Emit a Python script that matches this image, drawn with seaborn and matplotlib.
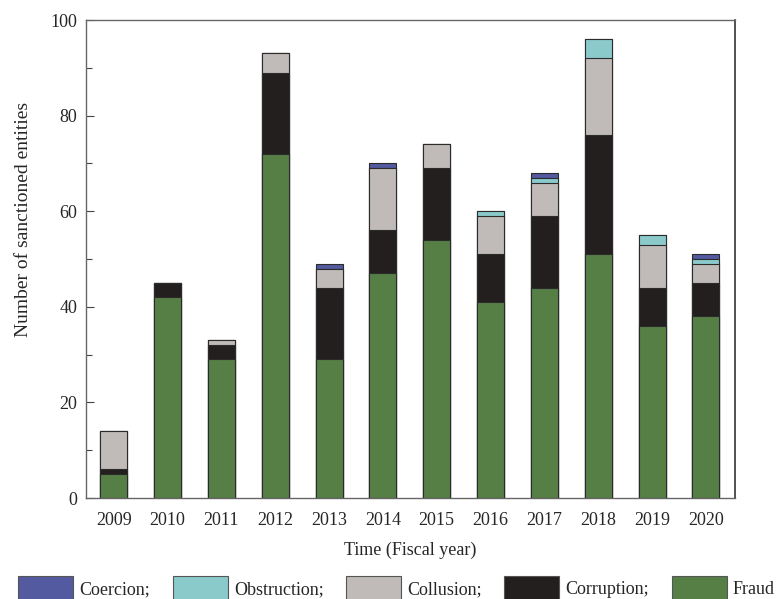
import numpy as np
import pandas as pd
import matplotlib
matplotlib.use("Agg")
import matplotlib.pyplot as plt
import seaborn as sns
from matplotlib.patches import Patch
from matplotlib.ticker import MultipleLocator

years = ["2009", "2010", "2011", "2012", "2013", "2014",
         "2015", "2016", "2017", "2018", "2019", "2020"]
fraud = [5, 42, 29, 72, 29, 47, 54, 41, 44, 51, 36, 38]
corruption = [1, 3, 3, 17, 15, 9, 15, 10, 15, 25, 8, 7]
collusion = [8, 0, 1, 4, 4, 13, 5, 8, 7, 16, 9, 4]
obstruction = [0, 0, 0, 0, 0, 0, 0, 1, 1, 4, 2, 1]
coercion = [0, 0, 0, 0, 1, 1, 0, 0, 1, 0, 0, 1]

categories = ["Fraud", "Corruption", "Collusion", "Obstruction", "Coercion"]
colors = {
    "Fraud": "#567f46",
    "Corruption": "#231f1e",
    "Collusion": "#c0bab8",
    "Obstruction": "#8bcaca",
    "Coercion": "#535a9f",
}

df = pd.DataFrame({
    "year": years,
    "Fraud": fraud,
    "Corruption": corruption,
    "Collusion": collusion,
    "Obstruction": obstruction,
    "Coercion": coercion,
})

# cumulative heights, bottom layer first
cum = df[categories].cumsum(axis=1)

sns.set_theme(style="white")
plt.rcParams["font.family"] = ["Liberation Serif", "DejaVu Serif"]
plt.rcParams["font.size"] = 13

fig = plt.figure(figsize=(7.79, 5.99), dpi=100)
ax = fig.add_axes([0.110, 0.1686, 0.8335, 0.798])

# draw the tallest cumulative layer first so lower layers sit on top of it
for cat in reversed(categories):
    sns.barplot(x=df["year"], y=cum[cat], ax=ax, color=colors[cat],
                width=0.5, edgecolor="#2b2b2b", linewidth=0.8,
                saturation=1, errorbar=None)

ax.set_xlim(-0.52, 11.54)
ax.set_ylim(0, 100)
ax.yaxis.set_major_locator(MultipleLocator(20))
ax.yaxis.set_minor_locator(MultipleLocator(10))
ax.tick_params(axis="y", which="major", direction="in", length=6, width=0.8,
               color="#444444", labelsize=13, pad=6, left=True)
ax.tick_params(axis="y", which="minor", direction="in", length=4, width=0.8,
               color="#444444", left=True)
ax.tick_params(axis="x", length=0, labelsize=13, pad=10)

for side in ["left", "bottom", "top"]:
    ax.spines[side].set_color("#666666")
    ax.spines[side].set_linewidth(1.0)
ax.spines["right"].set_color("#333333")
ax.spines["right"].set_linewidth(1.2)

ax.set_xlabel("Time (Fiscal year)", fontsize=13, va="top")
ax.xaxis.set_label_coords(0.5, -0.092)
ax.set_ylabel("Number of sanctioned entities", fontsize=14)
ax.yaxis.set_label_coords(-0.083, 0.582)

legend_labels = ["Coercion;", "Obstruction;", "Collusion;", "Corruption;", "Fraud"]
legend_cats = ["Coercion", "Obstruction", "Collusion", "Corruption", "Fraud"]
handles = [Patch(facecolor=colors[c], edgecolor="#555555", linewidth=0.8)
           for c in legend_cats]
fig.legend(handles, legend_labels, loc="center", ncol=5, frameon=False,
           bbox_to_anchor=(0.509, 0.018), handlelength=3.05, handleheight=1.66,
           handletextpad=0.33, columnspacing=1.25, fontsize=13,
           borderpad=0, borderaxespad=0)

fig.savefig("out.png", dpi=100)
